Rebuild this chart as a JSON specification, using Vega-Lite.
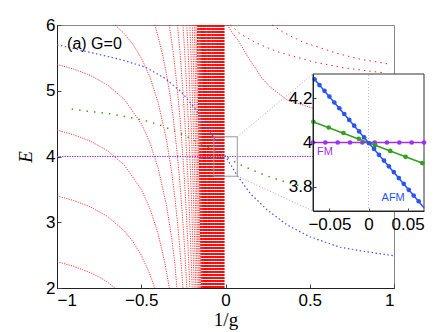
{
"$schema": "https://vega.github.io/schema/vega-lite/v6.json",
"width": 337, "height": 263,
"autosize": "none",
"padding": {"left": 57, "top": 25, "right": 42, "bottom": 44},
"background": "white",
"config": {
  "view": {"stroke": "#888", "strokeWidth": 1},
  "axis": {"labelFont": "Liberation Sans", "labelFontSize": 17, "labelColor": "black", "domainColor": "#222", "tickColor": "#444", "grid": false, "titleFont": "Liberation Serif", "titleFontSize": 19, "titleFontWeight": "normal", "titleColor": "black"}
},
"datasets": {
  "redC": [
    {"s":"m4","x":-1,"y":2.4},{"s":"m4","x":-0.9,"y":2.33},{"s":"m4","x":-0.8,"y":2.231},{"s":"m4","x":-0.75,"y":2.167},{"s":"m4","x":-0.7,"y":2.088},{"s":"m4","x":-0.6547,"y":2.0},
    {"s":"m3","x":-1,"y":3.4},{"s":"m3","x":-0.9,"y":3.33},{"s":"m3","x":-0.8,"y":3.231},{"s":"m3","x":-0.7,"y":3.088},{"s":"m3","x":-0.6,"y":2.867},{"s":"m3","x":-0.55,"y":2.708},{"s":"m3","x":-0.5,"y":2.5},{"s":"m3","x":-0.45,"y":2.219},{"s":"m3","x":-0.42,"y":2.0},
    {"s":"m2","x":-1,"y":4.4},{"s":"m2","x":-0.9,"y":4.33},{"s":"m2","x":-0.8,"y":4.231},{"s":"m2","x":-0.7,"y":4.088},{"s":"m2","x":-0.6,"y":3.867},{"s":"m2","x":-0.5,"y":3.5},{"s":"m2","x":-0.45,"y":3.219},{"s":"m2","x":-0.4,"y":2.825},{"s":"m2","x":-0.36,"y":2.385},{"s":"m2","x":-0.3333,"y":2.0},
    {"s":"m1","x":-1,"y":5.4},{"s":"m1","x":-0.9,"y":5.33},{"s":"m1","x":-0.8,"y":5.231},{"s":"m1","x":-0.7,"y":5.088},{"s":"m1","x":-0.6,"y":4.867},{"s":"m1","x":-0.5,"y":4.5},{"s":"m1","x":-0.45,"y":4.219},{"s":"m1","x":-0.4,"y":3.825},{"s":"m1","x":-0.35,"y":3.251},{"s":"m1","x":-0.32,"y":2.77},{"s":"m1","x":-0.3,"y":2.367},{"s":"m1","x":-0.2887,"y":2.0},
    {"s":"k0","x":-0.6547,"y":6.0},{"s":"k0","x":-0.6,"y":5.867},{"s":"k0","x":-0.55,"y":5.708},{"s":"k0","x":-0.5,"y":5.5},{"s":"k0","x":-0.45,"y":5.219},{"s":"k0","x":-0.4,"y":4.825},{"s":"k0","x":-0.35,"y":4.251},{"s":"k0","x":-0.32,"y":3.77},{"s":"k0","x":-0.3,"y":3.367},{"s":"k0","x":-0.28,"y":2.874},{"s":"k0","x":-0.26,"y":2.262},{"s":"k0","x":-0.2526,"y":2.0},
    {"s":"k1","x":-0.4201,"y":6.0},{"s":"k1","x":-0.4,"y":5.825},{"s":"k1","x":-0.37,"y":5.509},{"s":"k1","x":-0.35,"y":5.251},{"s":"k1","x":-0.33,"y":4.945},{"s":"k1","x":-0.31,"y":4.578},{"s":"k1","x":-0.29,"y":4.133},{"s":"k1","x":-0.27,"y":3.585},{"s":"k1","x":-0.25,"y":2.9},{"s":"k1","x":-0.24,"y":2.492},{"s":"k1","x":-0.2294,"y":2.0},
    {"s":"k2","x":-0.3333,"y":6.0},{"s":"k2","x":-0.31,"y":5.578},{"s":"k2","x":-0.29,"y":5.133},{"s":"k2","x":-0.27,"y":4.585},{"s":"k2","x":-0.25,"y":3.9},{"s":"k2","x":-0.235,"y":3.268},{"s":"k2","x":-0.22,"y":2.502},{"s":"k2","x":-0.2116,"y":2.0},
    {"s":"k3","x":-0.2847,"y":6.0},{"s":"k3","x":-0.27,"y":5.585},{"s":"k3","x":-0.255,"y":5.086},{"s":"k3","x":-0.24,"y":4.492},{"s":"k3","x":-0.225,"y":3.774},{"s":"k3","x":-0.21,"y":2.897},{"s":"k3","x":-0.1974,"y":2.0},
    {"s":"k4","x":-0.2526,"y":6.0},{"s":"k4","x":-0.24,"y":5.492},{"s":"k4","x":-0.225,"y":4.774},{"s":"k4","x":-0.21,"y":3.897},{"s":"k4","x":-0.2,"y":3.2},{"s":"k4","x":-0.1857,"y":2.0},
    {"s":"k5","x":-0.2294,"y":6.0},{"s":"k5","x":-0.22,"y":5.502},{"s":"k5","x":-0.21,"y":4.897},{"s":"k5","x":-0.2,"y":4.2},{"s":"k5","x":-0.19,"y":3.39},{"s":"k5","x":-0.1759,"y":2.0},
    {"s":"k6","x":-0.2116,"y":6.0},{"s":"k6","x":-0.2,"y":5.2},{"s":"k6","x":-0.19,"y":4.39},{"s":"k6","x":-0.18,"y":3.441},{"s":"k6","x":-0.1674,"y":2.0},
    {"s":"k7","x":-0.1974,"y":6.0},{"s":"k7","x":-0.185,"y":4.934},{"s":"k7","x":-0.175,"y":3.904},{"s":"k7","x":-0.1601,"y":2.0},
    {"s":"k8","x":-0.1857,"y":6.0},{"s":"k8","x":-0.17,"y":4.319},{"s":"k8","x":-0.1537,"y":2.0},
    {"s":"k9","x":-0.1759,"y":6.0},{"s":"k9","x":-0.16,"y":3.98},{"s":"k9","x":-0.148,"y":2.0},
    {"s":"r1","x":0.012,"y":6.0},{"s":"r1","x":0.04,"y":5.88},{"s":"r1","x":0.074,"y":5.77},{"s":"r1","x":0.134,"y":5.51},{"s":"r1","x":0.217,"y":5.19},{"s":"r1","x":0.264,"y":5.06},{"s":"r1","x":0.365,"y":4.86},{"s":"r1","x":0.513,"y":4.74},{"s":"r1","x":0.6,"y":4.7}
  ],
  "redB": [
    {"s":"b10","x":-0.1674,"y":6},{"s":"b10","x":-0.1429,"y":2},
    {"s":"b11","x":-0.1601,"y":6},{"s":"b11","x":-0.1382,"y":2},
    {"s":"b12","x":-0.1537,"y":6},{"s":"b12","x":-0.134,"y":2},
    {"s":"b13","x":-0.148,"y":6},{"s":"b13","x":-0.1302,"y":2},
    {"s":"b14","x":-0.1429,"y":6},{"s":"b14","x":-0.1267,"y":2},
    {"s":"b15","x":-0.1382,"y":6},{"s":"b15","x":-0.1234,"y":2},
    {"s":"b16","x":-0.134,"y":6},{"s":"b16","x":-0.1204,"y":2},
    {"s":"b17","x":-0.1302,"y":6},{"s":"b17","x":-0.1176,"y":2},
    {"s":"b18","x":-0.1267,"y":6},{"s":"b18","x":-0.115,"y":2},
    {"s":"b19","x":-0.1234,"y":6},{"s":"b19","x":-0.1125,"y":2},
    {"s":"b20","x":-0.1204,"y":6},{"s":"b20","x":-0.1102,"y":2},
    {"s":"b22","x":-0.115,"y":6},{"s":"b22","x":-0.106,"y":2},
    {"s":"b24","x":-0.1102,"y":6},{"s":"b24","x":-0.1022,"y":2},
    {"s":"b26","x":-0.106,"y":6},{"s":"b26","x":-0.0989,"y":2},
    {"s":"b28","x":-0.1022,"y":6},{"s":"b28","x":-0.0958,"y":2},
    {"s":"b30","x":-0.0989,"y":6},{"s":"b30","x":-0.093,"y":2},
    {"s":"b33","x":-0.0944,"y":6},{"s":"b33","x":-0.0892,"y":2},
    {"s":"b36","x":-0.0904,"y":6},{"s":"b36","x":-0.0859,"y":2},
    {"s":"b40","x":-0.0859,"y":6},{"s":"b40","x":-0.0819,"y":2},
    {"s":"b45","x":-0.081,"y":6},{"s":"b45","x":-0.0777,"y":2},
    {"s":"b50","x":-0.0769,"y":6},{"s":"b50","x":-0.0741,"y":2},
    {"s":"b56","x":-0.0727,"y":6},{"s":"b56","x":-0.0703,"y":2},
    {"s":"b63","x":-0.0686,"y":6},{"s":"b63","x":-0.0666,"y":2},
    {"s":"b72","x":-0.0642,"y":6},{"s":"b72","x":-0.0625,"y":2},
    {"s":"b82","x":-0.0602,"y":6},{"s":"b82","x":-0.0588,"y":2},
    {"s":"b95","x":-0.056,"y":6},{"s":"b95","x":-0.0549,"y":2},
    {"s":"b110","x":-0.0521,"y":6},{"s":"b110","x":-0.0511,"y":2},
    {"s":"b130","x":-0.0479,"y":6},{"s":"b130","x":-0.0472,"y":2},
    {"s":"b155","x":-0.0439,"y":6},{"s":"b155","x":-0.0433,"y":2},
    {"s":"b185","x":-0.0402,"y":6},{"s":"b185","x":-0.0398,"y":2},
    {"s":"b225","x":-0.0365,"y":6},{"s":"b225","x":-0.0361,"y":2},
    {"s":"b280","x":-0.0327,"y":6},{"s":"b280","x":-0.0325,"y":2},
    {"s":"b350","x":-0.0293,"y":6},{"s":"b350","x":-0.0291,"y":2},
    {"s":"b450","x":-0.0258,"y":6},{"s":"b450","x":-0.0257,"y":2},
    {"s":"b600","x":-0.0223,"y":6},{"s":"b600","x":-0.0222,"y":2},
    {"s":"b850","x":-0.0188,"y":6},{"s":"b850","x":-0.0187,"y":2},
    {"s":"b1300","x":-0.0152,"y":6},{"s":"b1300","x":-0.0151,"y":2},
    {"s":"b2200","x":-0.0117,"y":6},{"s":"b2200","x":-0.0116,"y":2},
    {"s":"b4000","x":-0.0087,"y":6},{"s":"b4000","x":-0.0086,"y":2}
  ],
  "redR": [
    {"s":"r2","x":0.03,"y":6.0},{"s":"r2","x":0.08,"y":5.88},{"s":"r2","x":0.116,"y":5.82},{"s":"r2","x":0.19,"y":5.72},{"s":"r2","x":0.3,"y":5.6},{"s":"r2","x":0.395,"y":5.53},{"s":"r2","x":0.52,"y":5.44},{"s":"r2","x":0.7,"y":5.35},{"s":"r2","x":0.85,"y":5.3},{"s":"r2","x":0.95,"y":5.27},
    {"s":"r3","x":0.276,"y":6.0},{"s":"r3","x":0.35,"y":5.88},{"s":"r3","x":0.46,"y":5.74},{"s":"r3","x":0.66,"y":5.57},{"s":"r3","x":0.8,"y":5.48},{"s":"r3","x":0.96,"y":5.41}
  ],
  "blue": [
    {"x":-1,"y":5.7},{"x":-0.815,"y":5.59},{"x":-0.614,"y":5.47},{"x":-0.477,"y":5.36},{"x":-0.359,"y":5.19},{"x":-0.258,"y":4.97},{"x":-0.181,"y":4.73},{"x":-0.122,"y":4.5},{"x":-0.07,"y":4.29},{"x":-0.035,"y":4.145},{"x":0,"y":4.0},{"x":0.035,"y":3.855},{"x":0.07,"y":3.71},{"x":0.146,"y":3.44},{"x":0.246,"y":3.19},{"x":0.365,"y":2.96},{"x":0.5,"y":2.78},{"x":0.68,"y":2.62},{"x":0.84,"y":2.55},{"x":1.0,"y":2.49}
  ],
  "green": [
    {"x":-0.913,"y":4.72},{"x":-0.82,"y":4.69},{"x":-0.685,"y":4.65},{"x":-0.58,"y":4.6},{"x":-0.48,"y":4.55},{"x":-0.39,"y":4.48},{"x":-0.25,"y":4.33},{"x":-0.15,"y":4.2},{"x":-0.07,"y":4.094},{"x":0,"y":4.0},{"x":0.04,"y":3.94},{"x":0.1,"y":3.86},{"x":0.2,"y":3.75},{"x":0.284,"y":3.67},{"x":0.4,"y":3.58},{"x":0.52,"y":3.51},{"x":0.6,"y":3.47}
  ],
  "purple": [{"x":-1,"y":4},{"x":0.6,"y":4}],
  "box": [{"x":-0.07,"x2":0.07,"y":3.7,"y2":4.3}],
  "conn": [{"s":"c1","x":0.07,"y":4.3},{"s":"c1","x":0.519,"y":5.255},{"s":"c2","x":0.07,"y":3.7},{"s":"c2","x":0.519,"y":3.171}],
  "label": [{"x":-0.94,"y":5.71,"t":"(a) G=0"}],
  "ibg": [{"u":-0.071,"u2":0.071,"v":3.69,"v2":4.31}],
  "izero": [{"u":0,"v":3.69},{"u":0,"v":4.31}],
  "ipurpleL": [{"u":-0.071,"v":4},{"u":0.071,"v":4}],
  "ipurple": [{"u":-0.071,"v":4},{"u":-0.0552,"v":4},{"u":-0.0394,"v":4},{"u":-0.0236,"v":4},{"u":-0.0079,"v":4},{"u":0.0079,"v":4},{"u":0.0236,"v":4},{"u":0.0394,"v":4},{"u":0.0552,"v":4},{"u":0.071,"v":4}],
  "igreenL": [{"u":-0.071,"v":4.094},{"u":0.071,"v":3.904}],
  "igreen": [{"u":-0.0705,"v":4.094},{"u":-0.0509,"v":4.068},{"u":-0.0321,"v":4.043},{"u":-0.0124,"v":4.017},{"u":0.0086,"v":3.988},{"u":0.0278,"v":3.962},{"u":0.0474,"v":3.935},{"u":0.0688,"v":3.907}],
  "iblueL": [{"u":-0.071,"v":4.294},{"u":0.071,"v":3.705}],
  "iblue": [{"u":-0.069,"v":4.286},{"u":-0.0627,"v":4.26},{"u":-0.0563,"v":4.234},{"u":-0.05,"v":4.208},{"u":-0.0437,"v":4.181},{"u":-0.0373,"v":4.155},{"u":-0.031,"v":4.129},{"u":-0.0246,"v":4.102},{"u":-0.0183,"v":4.076},{"u":-0.012,"v":4.05},{"u":-0.0056,"v":4.023},{"u":0.0007,"v":3.997},{"u":0.0071,"v":3.971},{"u":0.0134,"v":3.944},{"u":0.0198,"v":3.918},{"u":0.0261,"v":3.892},{"u":0.0324,"v":3.866},{"u":0.0388,"v":3.839},{"u":0.0451,"v":3.813},{"u":0.0515,"v":3.786},{"u":0.0578,"v":3.76},{"u":0.0642,"v":3.734}],
  "ifm": [{"u":-0.066,"v":3.955,"t":"FM"}],
  "iafm": [{"u":0.0167,"v":3.748,"t":"AFM"}]
},
"layer": [
  {
    "layer": [
      {"data": {"name": "redC"}, "mark": {"type": "line", "color": "#ff0000", "strokeWidth": 0.9, "strokeDash": [1.2, 1.2], "opacity": 0.85},
       "encoding": {
         "x": {"field": "x", "type": "quantitative", "scale": {"domain": [-1, 1], "nice": false, "zero": false},
               "axis": {"title": "1/g", "values": [-1, -0.5, 0, 0.5, 1], "format": "~g", "tickSize": -4, "labelPadding": 8, "titlePadding": 2, "titleFontStyle": "normal"}},
         "y": {"field": "y", "type": "quantitative", "scale": {"domain": [2, 6], "nice": false, "zero": false},
               "axis": {"title": "E", "values": [2, 3, 4, 5, 6], "format": "~g", "tickSize": -4, "labelPadding": 6, "titlePadding": 10, "titleFontStyle": "italic"}},
         "detail": {"field": "s"}}},
      {"data": {"name": "redB"}, "mark": {"type": "line", "color": "#ff0000", "strokeWidth": 1, "strokeDash": [2, 1]},
       "encoding": {"x": {"field": "x", "type": "quantitative"}, "y": {"field": "y", "type": "quantitative"}, "detail": {"field": "s"}}},
      {"data": {"name": "redR"}, "mark": {"type": "line", "color": "#ff0000", "strokeWidth": 1, "strokeDash": [1.5, 4], "opacity": 0.85},
       "encoding": {"x": {"field": "x", "type": "quantitative"}, "y": {"field": "y", "type": "quantitative"}, "detail": {"field": "s"}}},
      {"data": {"name": "purple"}, "mark": {"type": "line", "color": "#a040ff", "strokeWidth": 1.2, "strokeDash": [1.5, 1]},
       "encoding": {"x": {"field": "x", "type": "quantitative"}, "y": {"field": "y", "type": "quantitative"}}},
      {"data": {"name": "green"}, "mark": {"type": "line", "color": "#44a022", "strokeWidth": 1.5, "strokeDash": [1.5, 6]},
       "encoding": {"x": {"field": "x", "type": "quantitative"}, "y": {"field": "y", "type": "quantitative"}}},
      {"data": {"name": "blue"}, "mark": {"type": "line", "color": "#5050f0", "strokeWidth": 1.2, "strokeDash": [1.5, 2.5]},
       "encoding": {"x": {"field": "x", "type": "quantitative"}, "y": {"field": "y", "type": "quantitative"}}},
      {"data": {"name": "box"}, "mark": {"type": "rect", "fill": null, "stroke": "#9a9a9a", "strokeWidth": 1},
       "encoding": {"x": {"field": "x", "type": "quantitative"}, "x2": {"field": "x2"}, "y": {"field": "y", "type": "quantitative"}, "y2": {"field": "y2"}}},
      {"data": {"name": "conn"}, "mark": {"type": "line", "color": "#aaaaaa", "strokeWidth": 1, "strokeDash": [1, 2]},
       "encoding": {"x": {"field": "x", "type": "quantitative"}, "y": {"field": "y", "type": "quantitative"}, "detail": {"field": "s"}}},
      {"data": {"name": "label"}, "mark": {"type": "text", "align": "left", "baseline": "middle", "font": "Liberation Sans", "fontSize": 16, "color": "black"},
       "encoding": {"x": {"field": "x", "type": "quantitative"}, "y": {"field": "y", "type": "quantitative"}, "text": {"field": "t"}}}
    ]
  },
  {
    "layer": [
      {"data": {"name": "ibg"}, "mark": {"type": "rect", "fill": "white", "stroke": "#333", "strokeWidth": 1},
       "encoding": {
         "x": {"field": "u", "type": "quantitative", "scale": {"domain": [-0.071, 0.071], "range": [256, 367], "nice": false, "zero": false},
               "axis": {"orient": "bottom", "offset": -77, "title": null, "values": [-0.05, 0, 0.05], "format": "~g", "tickSize": -3, "labelPadding": 8, "zindex": 1}},
         "x2": {"field": "u2"},
         "y": {"field": "v", "type": "quantitative", "scale": {"domain": [3.69, 4.31], "range": [186, 49], "nice": false, "zero": false},
               "axis": {"orient": "left", "offset": -256, "title": null, "values": [3.8, 4, 4.2], "format": "~g", "tickSize": -3, "labelPadding": 4, "zindex": 1}},
         "y2": {"field": "v2"}}},
      {"data": {"name": "izero"}, "mark": {"type": "line", "color": "#bbbbbb", "strokeWidth": 1, "strokeDash": [1, 2]},
       "encoding": {"x": {"field": "u", "type": "quantitative"}, "y": {"field": "v", "type": "quantitative"}}},
      {"data": {"name": "ipurpleL"}, "mark": {"type": "line", "color": "#a030f0", "strokeWidth": 1.5},
       "encoding": {"x": {"field": "u", "type": "quantitative"}, "y": {"field": "v", "type": "quantitative"}}},
      {"data": {"name": "ipurple"}, "mark": {"type": "point", "filled": true, "color": "#a030f0", "size": 22, "opacity": 1},
       "encoding": {"x": {"field": "u", "type": "quantitative"}, "y": {"field": "v", "type": "quantitative"}}},
      {"data": {"name": "igreenL"}, "mark": {"type": "line", "color": "#33a020", "strokeWidth": 1.5},
       "encoding": {"x": {"field": "u", "type": "quantitative"}, "y": {"field": "v", "type": "quantitative"}}},
      {"data": {"name": "igreen"}, "mark": {"type": "point", "filled": true, "color": "#33a020", "size": 22, "opacity": 1},
       "encoding": {"x": {"field": "u", "type": "quantitative"}, "y": {"field": "v", "type": "quantitative"}}},
      {"data": {"name": "iblueL"}, "mark": {"type": "line", "color": "#2a55f5", "strokeWidth": 1.5},
       "encoding": {"x": {"field": "u", "type": "quantitative"}, "y": {"field": "v", "type": "quantitative"}}},
      {"data": {"name": "iblue"}, "mark": {"type": "point", "filled": true, "color": "#2a55f5", "size": 22, "opacity": 1},
       "encoding": {"x": {"field": "u", "type": "quantitative"}, "y": {"field": "v", "type": "quantitative"}}},
      {"data": {"name": "ifm"}, "mark": {"type": "text", "align": "left", "baseline": "middle", "font": "Liberation Sans", "fontSize": 11, "color": "#a030f0"},
       "encoding": {"x": {"field": "u", "type": "quantitative"}, "y": {"field": "v", "type": "quantitative"}, "text": {"field": "t"}}},
      {"data": {"name": "iafm"}, "mark": {"type": "text", "align": "left", "baseline": "middle", "font": "Liberation Sans", "fontSize": 11, "color": "#2a55f5"},
       "encoding": {"x": {"field": "u", "type": "quantitative"}, "y": {"field": "v", "type": "quantitative"}, "text": {"field": "t"}}}
    ]
  }
],
"resolve": {"scale": {"x": "independent", "y": "independent"}}
}
